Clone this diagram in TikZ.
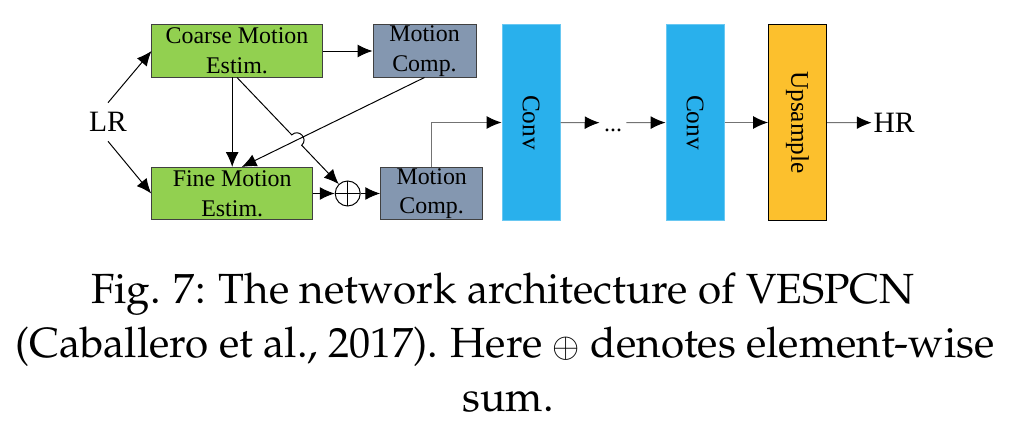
\documentclass[tikz,border=0pt]{standalone}
\usepackage[T1,TU]{fontenc}
\usepackage{fontspec}
\setmainfont{Liberation Serif}
\usetikzlibrary{arrows.meta,calc}

\definecolor{estgreen}{RGB}{146,208,80}
\definecolor{compgray}{RGB}{132,151,176}
\definecolor{convblue}{RGB}{41,176,236}
\definecolor{upyellow}{RGB}{252,192,45}

\tikzset{
    boxfont/.style={font=\fontsize{17}{21}\selectfont},
    estbox/.style={boxfont, draw=black!75, fill=estgreen, minimum height=1.3cm, inner sep=0pt, align=center},
    compbox/.style={boxfont, draw=black!75, fill=compgray, minimum height=1.3cm, inner sep=0pt, align=center},
    layerbox/.style={rotate=-90, minimum width=4.875cm, minimum height=1.45cm, inner sep=0pt, font=\fontsize{18}{18}\selectfont},
    sumnode/.style={circle, draw, fill=white, minimum size=0.625cm, inner sep=0pt,
        path picture={\draw (path picture bounding box.north) -- (path picture bounding box.south)
                            (path picture bounding box.west) -- (path picture bounding box.east);}},
    io/.style={font=\fontsize{21}{21}\selectfont, inner xsep=1pt, inner ysep=6.5pt},
    grayarrow/.style={draw=black!55, -{Latex[length=0.37cm,width=0.32cm,color=black]}},
    capfont/.style={font=\fontencoding{T1}\fontfamily{ppl}\fontsize{30}{36}\selectfont, inner sep=0pt}
}

\begin{document}
\begin{tikzpicture}[x=0.025cm, y=-0.025cm, >={Latex[length=0.37cm,width=0.32cm]}, line width=0.7pt]
    \useasboundingbox (0,0) rectangle (1016,425);

    % Motion estimation and compensation
    \node[io] (lr) at (108,122) {LR};
    \node[estbox, minimum width=4.25cm] (coarse) at (237,51) {Coarse Motion\\Estim.};
    \node[compbox, minimum width=2.575cm] (mctop) at (424.5,51) {Motion\\Comp.};
    \node[estbox, minimum width=4.025cm] (fine) at (232.2,193.5) {Fine Motion\\Estim.};
    \node[sumnode] (plus) at (347.7,193.5) {};
    \node[compbox, minimum width=2.55cm] (mcbot) at (431.7,193.5) {Motion\\Comp.};

    % Conv layers and upsampling
    \node[layerbox, fill=convblue, draw=convblue!70!white] (conv1) at (531,122.5) {Conv};
    \node[boxfont, inner xsep=0.1cm, inner ysep=0pt, text height=0.465cm, text depth=0pt] (dots) at (613,122.7) {...};
    \node[layerbox, fill=convblue, draw=convblue!70!white] (conv2) at (695,122.5) {Conv};
    \node[layerbox, fill=upyellow, draw=black] (up) at (797.5,122.5) {Upsample};
    \node[io] (hr) at (894,122.7) {HR};

    % Connections
    \draw[->] (lr.north) -- (coarse.west);
    \draw[->] (lr.south) -- (fine.west);
    \draw[->] (coarse) -- (mctop);
    \draw[->] (coarse.south -| fine.north) -- (fine.north);
    \coordinate (fineend) at ($(fine.north)+(9.5,0)$);
    \draw[->] (mctop.south) -- (fineend);
    \coordinate (cross) at (intersection of coarse.south--plus and mctop.south--fineend);
    \draw[->] (coarse.south) -- ($(cross)!0.18cm!(coarse.south)$)
        to[bend left=90, looseness=1.7] ($(cross)!0.18cm!(plus)$) -- (plus);
    \draw[->] (fine) -- (plus);
    \draw[->] (plus) -- (mcbot);
    \draw[grayarrow] (mcbot.north) |- (conv1);
    \draw[grayarrow] (conv1) -- (dots);
    \draw[grayarrow] (dots) -- (conv2);
    \draw[grayarrow] (conv2) -- (up);
    \draw[grayarrow] (up) -- (hr);

    % Caption
    \node[capfont, anchor=base] (capa) at (503,303) {Fig. 7: The network architecture of VESPCN};
    \node[capfont, anchor=base] (capb) at (505,357) {(Caballero et al., 2017). Here $\oplus$ denotes element-wise};
    \node[capfont, anchor=base] (capc) at (508,411) {sum.};
\end{tikzpicture}
\end{document}
